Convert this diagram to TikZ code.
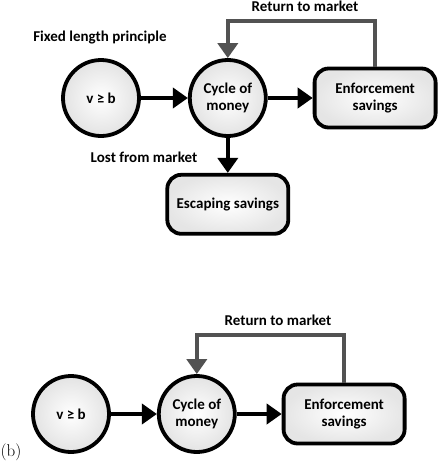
\documentclass[tikz,border=0pt]{standalone}
\usepackage{fontspec}
\newfontfamily\calibri{Carlito}
\usetikzlibrary{arrows.meta,positioning}

\begin{document}
\begin{tikzpicture}[x=1pt, y=-1pt,
  circulo/.style={circle, draw, line width=3.8pt, minimum size=76pt,
                  inner sep=0pt, align=center, shade, inner color=white,
                  outer color=black!11, font=\calibri\bfseries\fontsize{15}{17}\selectfont},
  caja/.style={rectangle, draw, rounded corners=14pt, line width=3.8pt,
               minimum width=121pt, minimum height=59pt, align=center,
               shade, inner color=white, outer color=black!10,
               font=\calibri\bfseries\fontsize{15}{17}\selectfont},
  etiqueta/.style={font=\calibri\bfseries\fontsize{15}{17}\selectfont},
  flecha/.style={-{Triangle[length=15pt,width=20pt]}, line width=3.8pt},
  retorno/.style={flecha, draw=black!68}
]
\useasboundingbox (0,0) rectangle (441,464);

% (a) con perdidas
\node[circulo] (vb) at (101,98) {v ≥ b};
\node[circulo, right=47pt of vb] (ciclo) {Cycle of\\ money};
\node[caja, right=45pt of ciclo] (ahorro) {Enforcement\\ savings};
\node[caja, below=35pt of ciclo] (escape) {Escaping savings};

\draw[flecha] (vb) -- (ciclo);
\draw[flecha] (ciclo) -- (ahorro);
\draw[flecha] (ciclo) -- (escape);

\node[etiqueta] (fijo) at (100,38) {Fixed length principle};
\node[etiqueta] (perdido) at (144,157) {Lost from market};
\node[etiqueta] (vuelta) at (305,6) {Return to market};
\coordinate (arriba) at (0,21);
\draw[retorno] (ahorro.north) -- (ahorro.north |- arriba) -| (ciclo.north);

% (b) sin perdidas
\node[circulo] (vb2) at (71,414) {v ≥ b};
\node[circulo, right=46pt of vb2] (ciclo2) {Cycle of\\ money};
\node[caja, right=45pt of ciclo2] (ahorro2) {Enforcement\\ savings};

\draw[flecha] (vb2) -- (ciclo2);
\draw[flecha] (ciclo2) -- (ahorro2);

\node[etiqueta] (vuelta2) at (278,320) {Return to market};
\coordinate (arriba2) at (0,335);
\draw[retorno] (ahorro2.north) -- (ahorro2.north |- arriba2) -| (ciclo2.north);

\node[font=\fontsize{17}{19}\selectfont] (b) at (11,452) {(b)};
\end{tikzpicture}
\end{document}
